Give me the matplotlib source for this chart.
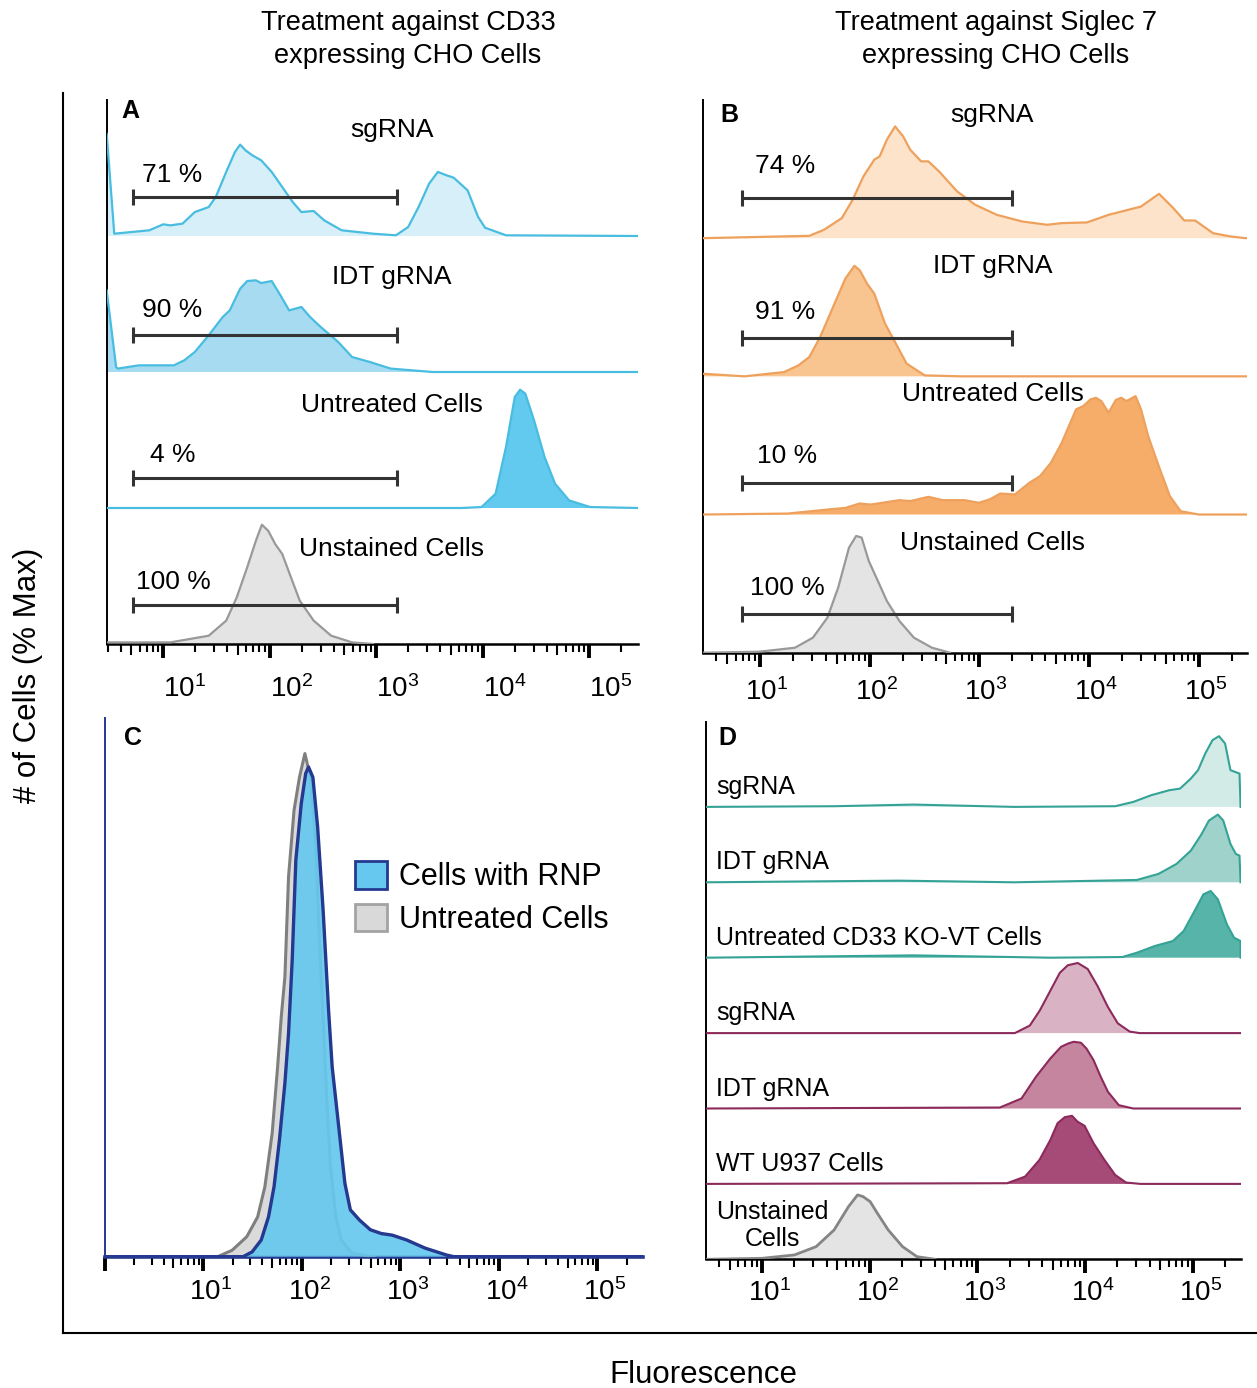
import numpy as np
import matplotlib
matplotlib.use('Agg')
import matplotlib.pyplot as plt
import matplotlib.transforms as mtransforms
from matplotlib.ticker import FixedLocator, NullLocator
from matplotlib.patches import Patch

plt.rcParams['font.family'] = ['Liberation Sans', 'DejaVu Sans']
plt.rcParams['mathtext.fontset'] = 'custom'
plt.rcParams['mathtext.rm'] = 'Liberation Sans'
plt.rcParams['mathtext.it'] = 'Liberation Sans:italic'
plt.rcParams['mathtext.bf'] = 'Liberation Sans:bold'

# ---------------- DATA (x values are log10 fluorescence, heights are fraction of a row) -------------
# Panel A : CD33 expressing CHO cells
a_sg_logx = [0.469, 0.540, 0.869, 1.0, 1.066, 1.181, 1.296, 1.427, 1.493, 1.591, 1.673, 1.722, 1.772, 1.837,
             1.920, 2.018, 2.117, 2.215, 2.297, 2.412, 2.511, 2.675, 2.970, 3.184, 3.299, 3.397, 3.496, 3.578,
             3.660, 3.726, 3.857, 3.956, 4.021, 4.218, 5.457]
a_sg_h = [0.75, 0.017, 0.042, 0.086, 0.078, 0.091, 0.176, 0.213, 0.287, 0.471, 0.618, 0.672, 0.630, 0.593,
          0.556, 0.471, 0.360, 0.250, 0.176, 0.184, 0.115, 0.042, 0.017, 0.005, 0.066, 0.213, 0.385, 0.471,
          0.446, 0.429, 0.336, 0.140, 0.061, 0.005, 0.0]
a_idt_logx = [0.469, 0.557, 0.573, 0.770, 1.099, 1.197, 1.296, 1.427, 1.558, 1.624, 1.722, 1.788, 1.870, 1.920,
              2.018, 2.100, 2.182, 2.297, 2.379, 2.478, 2.642, 2.773, 2.938, 3.135, 3.529, 5.457]
a_idt_h = [0.600, 0.037, 0.025, 0.049, 0.049, 0.086, 0.147, 0.270, 0.404, 0.453, 0.613, 0.669, 0.674, 0.654,
           0.669, 0.564, 0.453, 0.478, 0.404, 0.331, 0.221, 0.110, 0.074, 0.025, 0.0, 0.0]
a_unt_logx = [0.469, 3.80, 3.988, 4.120, 4.218, 4.300, 4.350, 4.399, 4.481, 4.580, 4.678, 4.810, 5.007, 5.457]
a_unt_h = [0, 0, 0.007, 0.105, 0.449, 0.816, 0.870, 0.841, 0.645, 0.375, 0.179, 0.056, 0.007, 0]
a_uns_logx = [0.475, 1.066, 1.427, 1.591, 1.690, 1.788, 1.870, 1.926, 1.985, 2.051, 2.117, 2.199, 2.281, 2.412,
              2.576, 2.773, 2.970]
a_uns_h = [0.012, 0.012, 0.061, 0.172, 0.343, 0.564, 0.760, 0.877, 0.833, 0.735, 0.662, 0.490, 0.319, 0.172,
           0.061, 0.012, 0]
a_labels = ['sgRNA', 'IDT gRNA', 'Untreated Cells', 'Unstained Cells']
a_label_h = [0.777, 0.699, 0.755, 0.699]
a_pcts = ['71 %', '90 %', '4 %', '100 %']
a_pct_x = [0.803, 0.803, 0.875, 0.748]
a_pct_h = [0.446, 0.453, 0.387, 0.453]
a_bar_h = [0.287, 0.27, 0.223, 0.289]
a_gate = [0.714, 3.190]

# Panel B : Siglec 7 expressing CHO cells
b_sg_logx = [0.478, 1.450, 1.582, 1.746, 1.845, 1.943, 2.042, 2.091, 2.157, 2.232, 2.305, 2.370, 2.469, 2.535,
             2.633, 2.798, 2.962, 3.159, 3.389, 3.619, 3.751, 3.981, 4.178, 4.474, 4.638, 4.769, 4.868, 4.967,
             5.131, 5.295, 5.427, 5.44]
b_sg_h = [0, 0.017, 0.060, 0.145, 0.278, 0.447, 0.568, 0.592, 0.713, 0.809, 0.737, 0.640, 0.556, 0.556,
          0.483, 0.338, 0.242, 0.169, 0.121, 0.097, 0.109, 0.114, 0.169, 0.229, 0.321, 0.217, 0.128, 0.128,
          0.036, 0.012, 0, 0]
b_idt_logx = [0.478, 0.859, 1.220, 1.352, 1.450, 1.549, 1.680, 1.779, 1.861, 1.910, 1.976, 2.042, 2.140, 2.239,
              2.337, 2.502, 2.83, 5.44]
b_idt_h = [0.019, 0, 0.031, 0.080, 0.140, 0.285, 0.527, 0.708, 0.800, 0.768, 0.671, 0.599, 0.382, 0.237,
           0.092, 0.007, 0, 0]
b_unt_logx = [0.478, 1.253, 1.615, 1.779, 1.910, 2.009, 2.272, 2.370, 2.535, 2.666, 2.863, 2.995, 3.093, 3.192,
              3.323, 3.455, 3.553, 3.652, 3.751, 3.816, 3.882, 3.948, 4.013, 4.063, 4.112, 4.178, 4.244, 4.293,
              4.342, 4.424, 4.474, 4.539, 4.638, 4.737, 4.835, 5.0, 5.44]
b_unt_h = [0, 0.007, 0.036, 0.048, 0.080, 0.072, 0.104, 0.097, 0.128, 0.104, 0.104, 0.085, 0.109, 0.152,
           0.145, 0.229, 0.278, 0.374, 0.519, 0.640, 0.761, 0.785, 0.833, 0.845, 0.821, 0.737, 0.829, 0.845,
           0.821, 0.857, 0.761, 0.568, 0.345, 0.133, 0.024, 0, 0]
b_uns_logx = [0.478, 0.990, 1.319, 1.483, 1.615, 1.713, 1.812, 1.877, 1.927, 1.992, 2.075, 2.157, 2.272, 2.403,
              2.568, 2.732]
b_uns_h = [0, 0.007, 0.036, 0.109, 0.254, 0.471, 0.761, 0.845, 0.833, 0.664, 0.519, 0.374, 0.229, 0.109,
           0.036, 0]
b_labels = ['sgRNA', 'IDT gRNA', 'Untreated Cells', 'Unstained Cells']
b_label_h = [0.894, 0.797, 0.87, 0.797]
b_pcts = ['74 %', '91 %', '10 %', '100 %']
b_pct_x = [0.957, 0.957, 0.970, 0.908]
b_pct_h = [0.519, 0.466, 0.423, 0.471]
b_bar_h = [0.29, 0.28, 0.229, 0.278]
b_gate = [0.836, 3.297]

# Panel C : % Max
c_rnp_logx = [0.0, 1.406, 1.498, 1.590, 1.664, 1.720, 1.775, 1.830, 1.867, 1.904, 1.941, 1.996, 2.041, 2.070,
              2.114, 2.162, 2.218, 2.273, 2.310, 2.365, 2.439, 2.494, 2.587, 2.697, 2.808, 2.919, 3.066, 3.251,
              3.472, 3.546, 5.46]
c_rnp_pct = [0, 0, 0.9, 3.1, 7.4, 13.0, 21.7, 32.2, 41.4, 55.0, 73.6, 84.1, 89.7, 90.9, 89.0, 79.8, 64.3, 45.8,
             35.2, 26.0, 13.6, 8.7, 6.8, 5.0, 4.3, 4.0, 3.1, 1.6, 0.3, 0, 0]
c_unt_logx = [1.148, 1.295, 1.443, 1.554, 1.627, 1.701, 1.756, 1.793, 1.830, 1.867, 1.923, 1.978, 2.033, 2.089,
              2.144, 2.181, 2.218, 2.255, 2.292, 2.347, 2.402, 2.513, 2.734]
c_unt_pct = [0, 1.2, 3.7, 7.4, 13.0, 22.9, 35.2, 44.5, 51.9, 70.5, 82.9, 89.0, 93.4, 89.0, 76.7, 58.1, 44.5,
             29.1, 16.7, 7.4, 3.1, 0.6, 0]
c_legend = ['Cells with RNP', 'Untreated Cells']

# Panel D : U937 cells (rows from top to bottom)
d_labels = ['sgRNA', 'IDT gRNA', 'Untreated CD33 KO-VT Cells', 'sgRNA', 'IDT gRNA', 'WT U937 Cells',
            'Unstained\nCells']
d1_logx = [0.481, 1.669, 2.406, 3.343, 4.280, 4.448, 4.615, 4.782, 4.883, 4.983, 5.050, 5.117, 5.184, 5.244,
           5.301, 5.351, 5.392, 5.435, 5.445]
d1_h = [0, 0.009, 0.031, 0, 0.009, 0.066, 0.155, 0.221, 0.243, 0.376, 0.487, 0.708, 0.885, 0.938, 0.841,
        0.487, 0.465, 0.442, 0]
d2_logx = [0.481, 2.272, 3.343, 4.481, 4.682, 4.849, 4.983, 5.084, 5.151, 5.234, 5.284, 5.351, 5.401, 5.435,
           5.445]
d2_h = [0, 0.022, 0, 0.031, 0.111, 0.243, 0.420, 0.642, 0.819, 0.898, 0.819, 0.509, 0.376, 0.354, 0]
d3_logx = [0.481, 2.406, 3.678, 4.347, 4.481, 4.648, 4.816, 4.916, 5.017, 5.100, 5.167, 5.234, 5.318, 5.385,
           5.445, 5.445]
d3_h = [0, 0.031, 0, 0.009, 0.066, 0.155, 0.221, 0.354, 0.619, 0.841, 0.885, 0.774, 0.442, 0.265, 0.221, 0]
d4_logx = [0.481, 3.348, 3.487, 3.580, 3.673, 3.766, 3.840, 3.933, 4.025, 4.118, 4.211, 4.304, 4.415, 4.508, 5.445]
d4_h = [0, 0, 0.10, 0.30, 0.55, 0.80, 0.90, 0.93, 0.85, 0.62, 0.35, 0.13, 0.02, 0, 0]
d5_logx = [0.481, 3.209, 3.410, 3.544, 3.678, 3.778, 3.845, 3.895, 3.962, 4.013, 4.079, 4.146, 4.213, 4.314,
           4.448, 5.445]
d5_h = [0, 0.013, 0.133, 0.420, 0.664, 0.819, 0.863, 0.885, 0.872, 0.796, 0.642, 0.420, 0.221, 0.044, 0, 0]
d6_logx = [0.481, 3.276, 3.443, 3.577, 3.678, 3.745, 3.812, 3.879, 3.929, 3.996, 4.079, 4.180, 4.280, 4.381,
           4.515, 5.445]
d6_h = [0, 0.009, 0.097, 0.319, 0.584, 0.805, 0.885, 0.903, 0.827, 0.770, 0.540, 0.319, 0.119, 0.018, 0, 0]
d7_logx = [0.481, 1.0, 1.301, 1.502, 1.669, 1.803, 1.887, 1.937, 2.004, 2.071, 2.172, 2.305, 2.439, 2.607]
d7_h = [0, 0.013, 0.058, 0.168, 0.389, 0.699, 0.854, 0.832, 0.765, 0.611, 0.389, 0.168, 0.035, 0]

# ---------------- STYLE ----------------
W, H = 1257, 1388
fig = plt.figure(figsize=(W / 100, H / 100), dpi=100)
fig.patch.set_facecolor('white')

BLUE_LINE = '#48bde0'
BLUE_FILLS = ['#d6eff9', '#a6dbf2', '#62c9ef']
OR_LINE = '#eea15c'
OR_FILLS = ['#fce3c9', '#f8c48f', '#f7ad6a']
GRAY_FILL, GRAY_LINE = '#e4e4e4', '#999999'
TEAL_LINE = '#34a396'
TEAL_FILLS = ['#d3ebe7', '#9ed2ca', '#57b4a9']
MAG_LINE = '#8c2a5c'
MAG_FILLS = ['#d9b3c4', '#c5859f', '#a64b77']
NAVY = '#24398f'
C_BLUE = '#66c8ee'


def fax(l, t, r, b):
    return fig.add_axes([l / W, 1 - b / H, (r - l) / W, (b - t) / H])


def setup_log_axis(ax, xmin, xmax, spine_color='black', spine_lw=1.8, left_lw=1.4, label_dx=0.0, pad=9):
    ax.set_xscale('log')
    ax.set_xlim(10 ** xmin, 10 ** xmax)
    ks = [k for k in range(0, 7) if xmin - 1e-6 <= k <= xmax]
    majors = [10.0 ** k for k in ks]
    labels = ['' if k == 0 else r'$\mathregular{10^{%d}}$' % k for k in ks]
    ax.set_xticks(majors, labels)
    minors = [m * 10.0 ** k for k in range(-1, 7) for m in (2, 3, 4, 6, 7, 8, 9)
              if 10 ** xmin <= m * 10.0 ** k <= 10 ** xmax]
    ax.xaxis.set_minor_locator(FixedLocator(minors))
    ax.tick_params(axis='x', which='major', length=10, width=2.8, direction='out', pad=pad,
                   labelsize=20, color='black')
    ax.tick_params(axis='x', which='minor', length=5.5, width=1.5, direction='out')
    off = mtransforms.ScaledTranslation(label_dx / 100.0, 0, fig.dpi_scale_trans)
    for lbl in ax.get_xticklabels():
        lbl.set_horizontalalignment('left')
        lbl.set_transform(lbl.get_transform() + off)
    fives = [5 * 10.0 ** k for k in range(-1, 7) if 10 ** xmin <= 5 * 10.0 ** k <= 10 ** xmax]
    sec = ax.secondary_xaxis('bottom')
    sec.set_xticks(fives, [''] * len(fives))
    sec.xaxis.set_minor_locator(NullLocator())
    sec.tick_params(axis='x', which='major', length=8, width=1.5, direction='out')
    sec.spines['bottom'].set_visible(False)
    ax.set_yticks([])
    for s in ('top', 'right'):
        ax.spines[s].set_visible(False)
    ax.spines['bottom'].set_color(spine_color)
    ax.spines['bottom'].set_linewidth(spine_lw)
    ax.spines['left'].set_color(spine_color)
    ax.spines['left'].set_linewidth(left_lw)
    ax.patch.set_alpha(0)


def draw_row(ax, logx, h, base, fill, line, lw=1.6):
    x = 10.0 ** np.asarray(logx)
    y = base + np.asarray(h)
    ax.fill_between(x, base, y, facecolor=fill, edgecolor='none', zorder=2)
    ax.plot(x, y, color=line, lw=lw, zorder=3, solid_joinstyle='round')


def stacked_panel(ax, curves, fills, lines, labels, label_h, label_x, pcts, pct_x, pct_h, bar_h, gate):
    n = len(curves)
    for i, ((lx, hh), f, ln) in enumerate(zip(curves, fills, lines)):
        base = n - 1 - i
        draw_row(ax, lx, hh, base, f, ln)
        ax.text(10 ** label_x, base + label_h[i], labels[i], ha='center', va='center', fontsize=19, zorder=5)
        ax.text(10 ** pct_x[i], base + pct_h[i], pcts[i], ha='left', va='center', fontsize=19, zorder=5)
        gx = 10.0 ** np.asarray(gate)
        gy = [base + bar_h[i]] * 2
        ax.plot(gx, gy, color='#333333', lw=2.2, zorder=4, solid_capstyle='butt')
        ax.plot(gx, gy, ls='none', marker='|', ms=11.5, mew=2.2, color='#333333', zorder=4)
    ax.set_ylim(0, n)


# ---- outer frame ----
frame = fax(63, 93, 1257, 1333)
frame.set_xticks([]); frame.set_yticks([])
for s in ('top', 'right'):
    frame.spines[s].set_visible(False)
for s in ('left', 'bottom'):
    frame.spines[s].set_linewidth(1.5)
frame.patch.set_alpha(0)
frame.set_zorder(-5)

fig.text(28 / W, 1 - 675 / H, '# of Cells (% Max)', rotation=90, ha='center', va='center', fontsize=22.5)
fig.text(703 / W, 1 - 1375 / H, 'Fluorescence', ha='center', va='center', fontsize=22.5)
fig.text(408 / W, 1 - 39.5 / H, 'Treatment against CD33\nexpressing CHO Cells', ha='center', va='center',
         fontsize=19.5, linespacing=1.32)
fig.text(996 / W, 1 - 39.5 / H, 'Treatment against Siglec 7\nexpressing CHO Cells', ha='center', va='center',
         fontsize=19.5, linespacing=1.32)

# ---- Panel A ----
axA = fax(106.7, 100, 638, 644)
setup_log_axis(axA, 0.469, 5.457, label_dx=0, pad=12.5)
stacked_panel(axA, [(a_sg_logx, a_sg_h), (a_idt_logx, a_idt_h), (a_unt_logx, a_unt_h), (a_uns_logx, a_uns_h)],
              BLUE_FILLS + [GRAY_FILL], [BLUE_LINE] * 3 + [GRAY_LINE], a_labels, a_label_h, 3.147,
              a_pcts, a_pct_x, a_pct_h, a_bar_h, a_gate)

# ---- Panel B ----
axB = fax(702.7, 100, 1247, 652.7)
setup_log_axis(axB, 0.478, 5.44, label_dx=-15, pad=8.5)
stacked_panel(axB, [(b_sg_logx, b_sg_h), (b_idt_logx, b_idt_h), (b_unt_logx, b_unt_h), (b_uns_logx, b_uns_h)],
              OR_FILLS + [GRAY_FILL], [OR_LINE] * 3 + [GRAY_LINE], b_labels, b_label_h, 3.12,
              b_pcts, b_pct_x, b_pct_h, b_bar_h, b_gate)

# ---- Panel C ----
axC = fax(104.5, 718, 642.7, 1256.7)
setup_log_axis(axC, 0.0, 5.46, spine_color=NAVY, spine_lw=2.6, left_lw=1.4, label_dx=-14, pad=5.5)
axC.set_ylim(0, 100)
xu = 10.0 ** np.asarray(c_unt_logx)
axC.fill_between(xu, 0, c_unt_pct, facecolor='#dadada', edgecolor='none', zorder=2)
axC.plot(xu, c_unt_pct, color='#7f7f7f', lw=2.2, zorder=3)
xr = 10.0 ** np.asarray(c_rnp_logx)
axC.fill_between(xr, 0, c_rnp_pct, facecolor=C_BLUE, edgecolor='none', alpha=0.92, zorder=4)
axC.plot(xr, c_rnp_pct, color=NAVY, lw=2.4, zorder=5)
handles = [Patch(facecolor=C_BLUE, edgecolor=NAVY, lw=2), Patch(facecolor='#d9d9d9', edgecolor='#a3a3a3', lw=2)]
axC.legend(handles, c_legend, loc='upper left', bbox_to_anchor=(0.465, 0.734), frameon=False, fontsize=22,
           handlelength=1.05, handleheight=1.0, handletextpad=0.4, labelspacing=0.38, borderpad=0,
           borderaxespad=0)

# ---- Panel D ----
axD = fax(706.2, 721.7, 1240.8, 1259.3)
setup_log_axis(axD, 0.481, 5.447, label_dx=-14, pad=4.5)
d_curves = [(d1_logx, d1_h), (d2_logx, d2_h), (d3_logx, d3_h), (d4_logx, d4_h), (d5_logx, d5_h),
            (d6_logx, d6_h), (d7_logx, d7_h)]
d_fills = TEAL_FILLS + MAG_FILLS + [GRAY_FILL]
d_lines = [TEAL_LINE] * 3 + [MAG_LINE] * 3 + ['#858585']
nD = len(d_curves)
for i, ((lx, hh), f, ln) in enumerate(zip(d_curves, d_fills, d_lines)):
    base = nD - 1 - i
    draw_row(axD, lx, hh, base, f, ln, lw=1.5 if i < 6 else 2.0)
    if i < 6:
        axD.text(10 ** 0.572, base + 0.17, d_labels[i], ha='left', va='baseline', fontsize=18, zorder=5)
    else:
        axD.text(10 ** 1.092, base + 0.17, d_labels[i], ha='center', va='baseline', fontsize=18,
                 multialignment='center', linespacing=1.2, zorder=5)
axD.set_ylim(0, 537.6 / 75.4)

# panel letters
for lt, (px, py) in zip('ABCD', [(130, 111), (729, 115), (133, 738), (727, 738)]):
    fig.text(px / W, 1 - py / H, lt, ha='center', va='center', fontsize=18, fontweight='bold')

fig.savefig('out.png', dpi=100, facecolor='white')
